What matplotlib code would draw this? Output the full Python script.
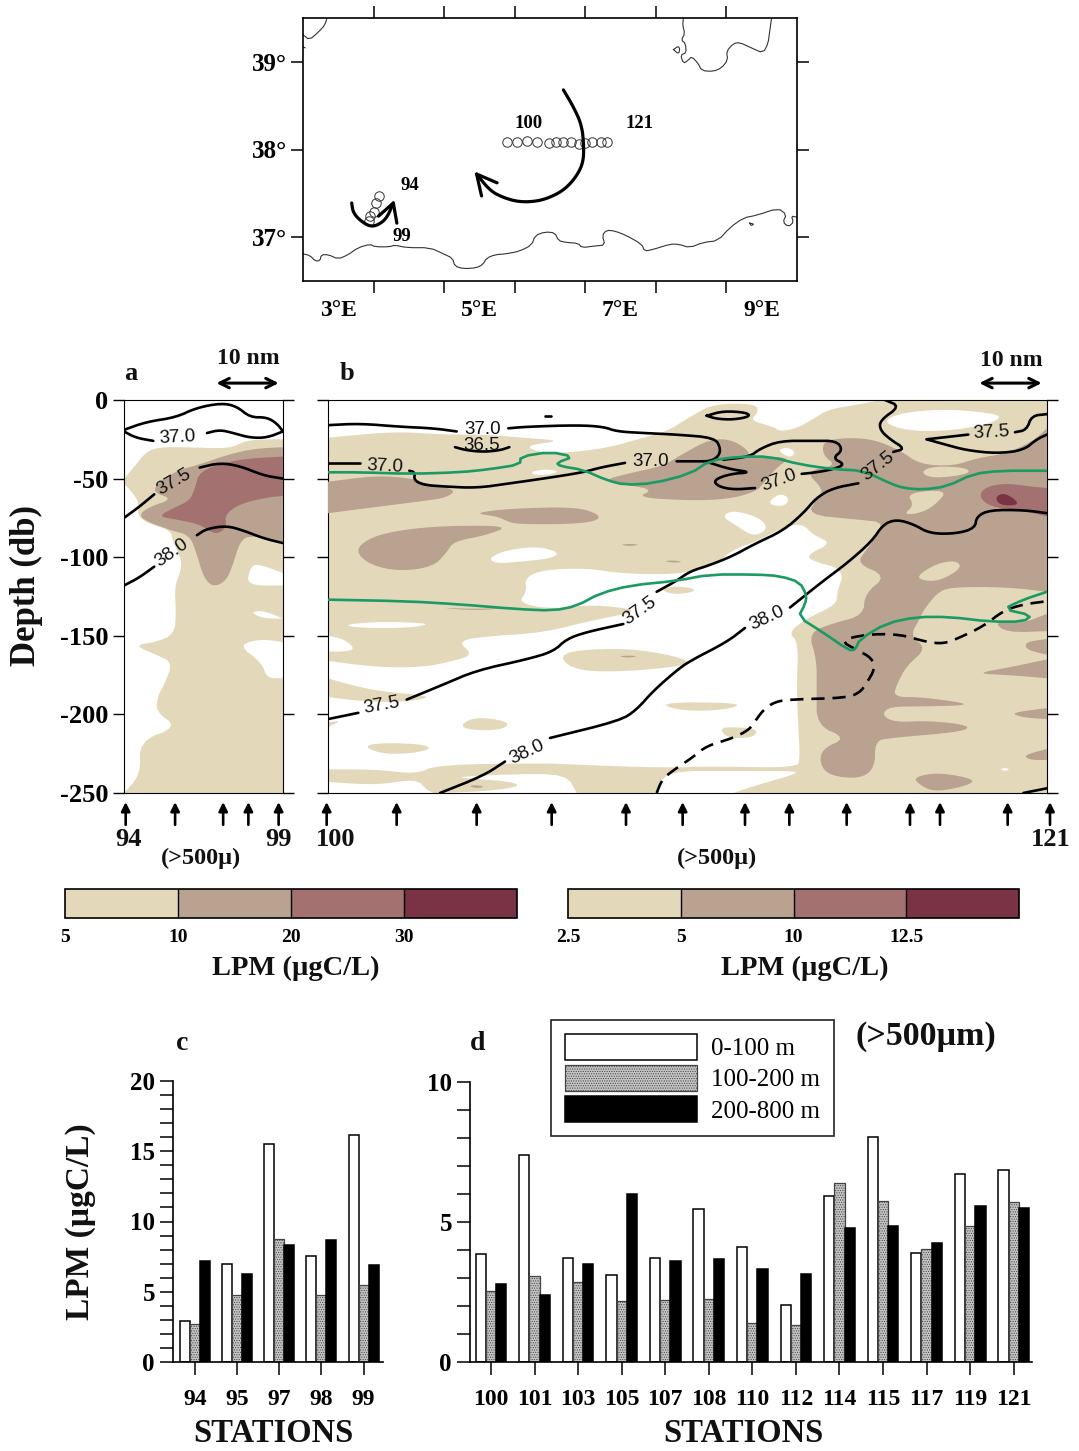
import numpy as np
import matplotlib
matplotlib.use("Agg")
import matplotlib.pyplot as plt
from matplotlib.patches import Patch
from matplotlib.colors import ListedColormap, BoundaryNorm
from matplotlib.cm import ScalarMappable
from matplotlib.ticker import FixedLocator, NullFormatter

plt.rcParams['font.family'] = ['Liberation Serif', 'DejaVu Serif']
plt.rcParams['hatch.linewidth'] = 0.5
plt.rcParams['axes.unicode_minus'] = False
W, H = 1079, 1451
fig = plt.figure(figsize=(W/100, H/100), dpi=100)

def ax_px(l, t, r, b):
    return fig.add_axes([l/W, 1-b/H, (r-l)/W, (b-t)/H])

def ftext(px, py, s, size, weight='bold', rotation=0):
    fig.text(px/W, 1-py/H, s, fontsize=size, fontweight=weight, rotation=rotation,
             ha='center', va='center', color='#111111')

def round_open(pts, n=2):
    """Round the corners of a drawn polyline; its two end points stay put."""
    p = np.asarray(pts, float)
    for _ in range(n):
        if len(p) < 3:
            break
        q = [p[0]]
        for i in range(len(p)-1):
            q.append(0.75*p[i] + 0.25*p[i+1])
            q.append(0.25*p[i] + 0.75*p[i+1])
        q.append(p[-1])
        p = np.array(q)
    return p

def round_closed(pts, xlim, ylim, n=2):
    """Round polygon corners, leaving vertices on the panel frame sharp."""
    p = np.asarray(pts, float)
    def pinned(v):
        return (abs(v[0]-xlim[0]) < 1e-6 or abs(v[0]-xlim[1]) < 1e-6 or
                abs(v[1]-ylim[0]) < 1e-6 or abs(v[1]-ylim[1]) < 1e-6)
    for _ in range(n):
        q = []
        m_ = len(p)
        for i in range(m_):
            a_, b_, c_ = p[i-1], p[i], p[(i+1) % m_]
            if pinned(b_):
                q.append(b_)
            else:
                q.append(0.75*b_ + 0.25*a_)
                q.append(0.75*b_ + 0.25*c_)
        p = np.array(q)
    return p

# ---------- colours ----------
C1, C2, C3, C4 = '#E3D9BA', '#B9A28F', '#A3716F', '#7A3344'
GREEN = '#1B9A63'

# ---------- map data (lon, lat) ----------
COAST_S = [(2.50,36.81),(2.60,36.79),(2.67,36.73),(2.74,36.73),(2.76,36.80),(2.86,36.80),(3.00,36.75),(3.14,36.80),
 (3.28,36.88),(3.45,36.92),(3.52,36.89),(3.73,36.89),(3.80,36.91),(3.97,36.88),(4.30,36.88),(4.49,36.81),(4.62,36.76),
 (4.65,36.67),(4.77,36.64),(4.96,36.65),(5.05,36.69),(5.10,36.76),(5.22,36.80),(5.38,36.81),(5.57,36.84),(5.74,36.91),
 (5.79,37.02),(5.93,37.06),(6.07,37.05),(6.12,36.96),(6.23,36.94),(6.40,36.93),(6.45,36.88),(6.64,36.90),(6.78,36.91),
 (6.74,37.02),(6.80,37.08),(6.92,37.07),(7.08,37.02),(7.30,36.92),(7.34,36.84),(7.46,36.86),(7.70,36.92),(7.82,36.92),
 (7.98,36.88),(8.17,36.94),(8.38,36.96),(8.55,37.11),(8.74,37.22),(8.93,37.25),(9.23,37.33),(9.35,37.26),(9.30,37.17),
 (9.38,37.12),(9.45,37.17),(9.42,37.24),(9.49,37.23)]
COAST_N = [(7.89,39.50),(7.88,39.42),(7.91,39.32),(7.86,39.25),(7.92,39.21),(7.93,39.10),(7.85,39.08),(7.89,38.98),
 (7.96,39.02),(8.01,39.06),(8.10,38.98),(8.15,38.90),(8.31,38.89),(8.43,38.93),(8.52,39.02),(8.50,39.12),(8.60,39.21),
 (8.69,39.22),(8.85,39.16),(9.02,39.10),(9.09,39.21),(9.11,39.33),(9.14,39.50)]
COAST_NW = [(2.84,39.50),(2.81,39.42),(2.72,39.34),(2.59,39.25),(2.50,39.31)]
ISLANDS = [[(7.75,39.14),(7.82,39.18),(7.84,39.14),(7.82,39.09),(7.75,39.14)],
           [(8.83,37.16),(8.89,37.15),(8.85,37.13),(8.83,37.16)],
           [(2.50,39.17),(2.53,39.16)]]
ST_B_LON = [5.39,5.53,5.67,5.82,5.98,6.08,6.19,6.30,6.41,6.49,6.60,6.72,6.81]
ST_B_LAT = [38.08,38.08,38.10,38.08,38.07,38.08,38.08,38.08,38.06,38.07,38.08,38.08,38.08]
ST_A_LON = [3.58,3.53,3.50,3.45,3.44]
ST_A_LAT = [37.47,37.39,37.29,37.24,37.19]
EDDY_BIG = [(6.19,38.68),(6.33,38.49),(6.45,38.28),(6.48,38.04),(6.47,37.85),(6.38,37.70),(6.23,37.56),(6.05,37.47),
 (5.83,37.41),(5.57,37.40),(5.34,37.45),(5.15,37.53),(4.96,37.72)]
EDDY_BIG_HEAD = [(5.25,37.62),(4.96,37.72),(5.03,37.47)]
EDDY_SMALL = [(3.19,37.39),(3.21,37.28),(3.31,37.19),(3.45,37.12),(3.57,37.14),(3.69,37.22),(3.78,37.39)]
EDDY_SMALL_HEAD = [(3.57,37.24),(3.78,37.39),(3.83,37.16)]
LON_LABELS = [3, 5, 7, 9]
LAT_LABELS = [37, 38, 39]

m = ax_px(303, 18, 797, 281)
m.set_xlim(2.5, 9.5); m.set_ylim(36.5, 39.5)
def xy(a, **k):
    a = np.array(a); m.plot(a[:,0], a[:,1], **k)
for c in (COAST_S, COAST_N, COAST_NW, *ISLANDS):
    xy(round_open(c, 1), color='#333333', lw=0.8)
m.plot(ST_B_LON, ST_B_LAT, 'o', mfc='none', mec='#333333', ms=6.8, mew=0.7)
m.plot(ST_A_LON, ST_A_LAT, 'o', mfc='none', mec='#333333', ms=6.8, mew=0.7)
for e in (EDDY_BIG, EDDY_SMALL):
    xy(round_open(e, 3), color='black', lw=2.3, solid_capstyle='round', solid_joinstyle='round')
for e in (EDDY_BIG_HEAD, EDDY_SMALL_HEAD):
    xy(e, color='black', lw=2.3, solid_capstyle='round', solid_joinstyle='round')
m.xaxis.set_major_locator(FixedLocator(np.arange(3.5, 9, 1)))
m.xaxis.set_major_formatter(NullFormatter())
m.xaxis.set_minor_locator(FixedLocator(LON_LABELS))
m.set_xticklabels([f'{v}°E' for v in LON_LABELS], minor=True, fontsize=17, fontweight='bold')
m.set_yticks(LAT_LABELS); m.set_yticklabels([f'{v}°' for v in LAT_LABELS], fontsize=18, fontweight='bold')
m.tick_params(which='major', top=True, right=True, length=8.5, width=1.1, direction='out')
m.tick_params(axis='x', which='minor', length=0, pad=14)
m.tick_params(axis='y', pad=3)
for (lo, la, s) in [(5.70,38.30,'100'),(7.27,38.30,'121'),(4.01,37.59,'94'),(3.90,37.01,'99')]:
    m.text(lo, la, s, fontsize=13.5, fontweight='bold', ha='center', va='center')
for s in m.spines.values(): s.set_linewidth(1.2)

# ---------- section a (distance along track, depth db) ----------
A_XLIM = (375, 848)
A_BEIGE = [(848,-25),(790,-25),(735,-26),(690,-31),(560,-30),(480,-30),(440,-33),(400,-44),(375,-50),(375,-53),(420,-64),
 (415,-73),(440,-78),(515,-83),(520,-90),(545,-101),(545,-108),(525,-119),(530,-134),(525,-149),(470,-154),(405,-156),
 (470,-162),(520,-167),(495,-181),(478,-187),(468,-198),(535,-208),(420,-217),(425,-238),(375,-250),(848,-250)]
A_WHITE = [[(848,-110),(770,-104),(750,-107),(740,-118),(848,-118)],
           [(750,-135),(790,-134),(848,-139),(790,-139)],
           [(715,-156),(780,-152),(848,-154),(848,-177),(800,-177),(785,-167)]]
A_L2 = [(848,-30),(760,-31),(680,-35),(600,-41),(530,-45),(470,-54),(465,-59),(520,-63),(450,-68),(420,-73),(440,-77),
 (515,-83),(570,-86),(590,-97),(612,-113),(640,-119),(680,-115),(700,-104),(720,-90),(750,-86),(848,-90)]
A_L3 = [(848,-36),(760,-37),(690,-39),(600,-45),(585,-57),(570,-64),(530,-68),(475,-74),(530,-76),(600,-79),(640,-85),
 (665,-84),(680,-80),(675,-73),(720,-66),(800,-62),(848,-61)]
A_LINES = [[(375,-19),(440,-14),(530,-11),(590,-5),(665,-2),(710,-4),(750,-11),(800,-11),(830,-15),(848,-20)],
 [(375,-20),(410,-24),(462,-26)], [(622,-21),(660,-19),(700,-21),(750,-24),(800,-24),(848,-20)],
 [(375,-75),(420,-68),(465,-60)], [(600,-43),(660,-40),(720,-42),(790,-48),(848,-50)],
 [(375,-118),(420,-113),(465,-106)], [(592,-86),(620,-82),(680,-80),(730,-83),(790,-88),(848,-91)]]
A_LABELS = [(535,-24,'37.0',3),(525,-52,'37.5',30),(518,-97,'38.0',35)]
A_STATIONS = [380,527,670,745,835]

# ---------- section b ----------
B_XLIM = (54, 2211)
B_WHITE = [
 [(54,0),(54,-24),(250,-20),(400,-22),(530,-22),(640,-24),(760,-26),(640,-29),(700,-34),(800,-33),(900,-30),(1000,-24),
  (1070,-20),(1130,-12),(1180,-6),(1200,-4),(1260,-2),(1340,-3),(1345,-8),(1320,-13),(1390,-17),(1410,-20),(1460,-18),
  (1510,-12),(1555,-6),(1640,-3),(1715,0)],
 [(1720,-13),(1780,-8),(1890,-6),(1990,-7),(2080,-10),(2040,-15),(1940,-19),(1840,-20),(1760,-18)],
 [(625,-129),(650,-122),(645,-113),(700,-108),(830,-107),(920,-110),(1040,-111),(1130,-110),(1165,-106),(1220,-104),
  (1270,-95),(1340,-90),(1430,-80),(1480,-79),(1510,-86),(1565,-91),(1495,-98),(1500,-102),(1605,-108),(1580,-123),
  (1580,-130),(1490,-139),(1435,-148),(1465,-154),(1460,-183),(1465,-209),(1470,-228),(1460,-234),(1200,-233),(1060,-234),
  (800,-232),(700,-231),(380,-232),(320,-238),(200,-235),(54,-235),(54,-189),(170,-192),(290,-192),(365,-189),(300,-187),
  (200,-185),(100,-180),(54,-177),(54,-166),(200,-170),(340,-170),(430,-166),(490,-162),(440,-153),(550,-150),(700,-148),
  (850,-140),(1000,-134),(850,-130),(720,-133)],
 [(54,-243),(200,-245),(320,-241),(350,-248),(370,-250),(54,-250)],
 [(430,-240),(600,-238),(770,-238),(800,-250),(390,-250),(520,-249),(630,-246),(610,-243),(500,-241)],
 [(1045,-250),(1060,-236),(1300,-236),(1470,-236),(1440,-239),(1340,-245),(1270,-250)],
 [(100,-143),(200,-141),(370,-142),(300,-145),(150,-145)],
 [(54,-150),(100,-152),(135,-158),(110,-160),(54,-160)],
 [(660,-46),(700,-44),(745,-45),(730,-47),(680,-48)],
 [(535,-101),(580,-96),(680,-93),(750,-97),(720,-101),(620,-103),(560,-104)],
 [(1235,-74),(1270,-70),(1350,-75),(1375,-82),(1330,-87),(1280,-80)],
 [(1370,-66),(1410,-59),(1440,-63),(1420,-68)],
 [(1402,-32),(1430,-30),(1458,-33),(1440,-37)],
 [(2070,-235),(2085,-234),(2100,-235),(2085,-236)]]
B_BEIGE_BLOBS = [
 [(750,-163),(800,-159),(960,-158),(1100,-163),(1150,-168),(1000,-172),(850,-173),(780,-170)],
 [(1050,-194),(1120,-192),(1300,-193),(1250,-197),(1130,-198)],
 [(450,-207),(490,-202),(560,-203),(600,-206),(570,-210),(480,-210)],
 [(160,-220),(220,-218),(340,-219),(365,-222),(300,-225),(210,-225)],
 [(54,-205),(95,-204),(54,-208)],
 [(1230,-209),(1260,-208),(1345,-209),(1330,-215),(1250,-215)],
 [(1050,-121),(1100,-118),(1170,-121),(1100,-124)]]
B_L2 = [
 [(54,-52),(200,-48),(310,-50),(345,-53),(440,-57),(410,-62),(350,-64),(200,-68),(54,-72)],
 [(490,-72),(600,-69),(800,-68),(870,-73),(860,-77),(780,-79),(620,-79),(590,-77),(560,-74)],
 [(135,-96),(175,-88),(260,-83),(400,-80),(600,-80),(530,-86),(430,-90),(410,-97),(370,-106),(270,-109),(180,-105)],
 [(880,-51),(950,-47),(1060,-42),(1120,-34),(1200,-25),(1260,-25),(1310,-31),(1320,-36),(1380,-36),(1440,-37),(1400,-43),
  (1360,-53),(1340,-58),(1260,-63),(1140,-64),(980,-62),(1030,-57),(950,-54)],
 [(1540,-26),(1610,-24),(1690,-25),(1770,-32),(1830,-41),(1930,-42),(2000,-37),(2090,-34),(2170,-26),(2211,-18),(2211,-122),
  (2090,-119),(1920,-119),(1880,-123),(1840,-134),(1830,-139),(1800,-150),(1850,-158),(1790,-169),(1760,-181),(1750,-189),
  (1840,-189),(2000,-194),(1840,-195),(1740,-195),(1715,-200),(1750,-205),(1860,-204),(1980,-207),(1960,-211),(1740,-215),
  (1695,-217),(1695,-234),(1650,-241),(1560,-239),(1530,-232),(1535,-222),(1610,-215),(1520,-207),(1520,-185),(1520,-165),
  (1495,-148),(1570,-142),(1660,-137),(1665,-123),(1730,-112),(1640,-104),(1670,-95),(1730,-78),(1640,-76),(1490,-73),
  (1525,-62),(1540,-57),(1485,-45),(1580,-42),(1538,-35)],
 [(1995,-174),(2100,-170),(2211,-165),(2211,-177),(2100,-175)],
 [(2145,-154),(2211,-152),(2211,-162),(2150,-159)],
 [(2050,-141),(2140,-142),(2211,-136),(2211,-147),(2090,-148)],
 [(2100,-199),(2211,-196),(2211,-203),(2140,-202)],
 [(2140,-226),(2211,-222),(2211,-229),(2160,-229)],
 [(1810,-240),(1880,-237),(1970,-240),(1995,-243),(1940,-247),(1870,-249),(1830,-245)],
 [(380,-132),(500,-134),(600,-132),(500,-133)],
 [(930,-92),(960,-91.5),(990,-92),(960,-93)],
 [(1060,-102.5),(1090,-102),(1120,-103),(1090,-103.5)],
 [(925,-163),(955,-162.5),(985,-163),(955,-164)],
 [(475,-245.5),(500,-245),(525,-246),(500,-247)]]
B_BEIGE_OVER = [
 [(1830,-46),(1870,-42),(1970,-43),(1980,-47),(1870,-50)],
 [(1790,-59),(1915,-57),(1875,-67),(1830,-72),(1780,-73),(1812,-67)],
 [(1820,-112),(1880,-104),(1940,-102),(1955,-107),(1890,-115),(1840,-115)]]
B_L3 = [(2005,-61),(2030,-55),(2090,-53),(2160,-55),(2211,-56),(2211,-74),(2140,-70.5),(2040,-68)]
B_L4 = [(2055,-62),(2080,-59),(2115,-63),(2125,-67),(2070,-67)]
B_LINES = [
 [(54,-16),(150,-15),(270,-17),(370,-18),(440,-20)],
 [(595,-18),(650,-17),(800,-16),(880,-17),(920,-20),(1000,-21),(1100,-22),(1215,-24),(1232,-31),(1225,-36),(1200,-39),(1160,-39),(1100,-39)],
 [(945,-40),(870,-43),(820,-46),(700,-50),(600,-53),(500,-56),(400,-55),(340,-54),(312,-51),(315,-46),(298,-45)],
 [(150,-40),(54,-40)],
 [(435,-30),(470,-32),(520,-33),(570,-32),(598,-30)],
 [(706,-10),(722,-10)],
 [(1190,-10),(1240,-7),(1310,-8),(1320,-10.5),(1270,-12.5),(1220,-12),(1190,-10)],
 [(1200,-40),(1260,-44),(1325,-46),(1260,-47),(1210,-51),(1225,-55),(1270,-57),(1335,-56)],
 [(1475,-47),(1520,-46),(1570,-44),(1605,-41),(1568,-37),(1598,-32),(1580,-26),(1510,-26),(1410,-26),(1350,-31),(1320,-36),(1240,-38)],
 [(1850,-25),(1900,-28),(1970,-32),(2060,-34),(2140,-32),(2180,-25),(2211,-22)],
 [(1850,-25),(1975,-22)],
 [(2115,-20.5),(2150,-19),(2165,-10),(2211,-9)],
 [(1725,0),(1770,-4),(1710,-13),(1710,-19),(1740,-25),(1785,-31),(1750,-33)],
 [(1645,-53),(1570,-56),(1520,-62),(1480,-72),(1420,-83),(1330,-92),(1270,-99),(1200,-105),(1140,-109),(1100,-115),(1040,-122)],
 [(940,-142.5),(830,-147.6),(770,-152),(730,-160),(650,-165),(500,-172),(400,-181),(290,-190.6)],
 [(145,-199),(54,-203)],
 [(2211,-72),(2140,-70),(2040,-70),(2000,-74),(1995,-81.5),(1940,-85),(1860,-85),(1810,-79),(1760,-76),(1720,-79),(1685,-90),(1610,-104),(1540,-115),(1440,-132)],
 [(1305,-145),(1250,-154),(1140,-166),(1100,-172),(1030,-185),(980,-197),(930,-204),(720,-215)],
 [(585,-230),(520,-239),(390,-250)],
 [(2140,-250),(2211,-247)]]
B_DASHED = [(1040,-250),(1055,-242),(1080,-237),(1150,-227),(1190,-220),(1270,-215),(1315,-210),(1330,-206),(1360,-197),(1395,-192),(1440,-190.5),
 (1610,-189.5),(1650,-186),(1670,-180),(1695,-171),(1685,-164),(1640,-159),(1590,-153),(1670,-149),(1770,-149),(1850,-154),
 (1900,-155),(1940,-152),(2020,-144),(2080,-134),(2140,-130),(2211,-128)]
B_GREEN_1 = [(54,-46),(150,-46),(300,-47),(450,-46),(540,-44),(630,-41),(632,-36),(720,-33),(790,-36),(740,-40),(750,-42),(820,-44.5),
 (890,-51),(945,-54),(1030,-53),(1140,-47),(1200,-38.5),(1290,-36),(1380,-36),(1470,-41),(1570,-44),(1660,-45),(1740,-53),
 (1780,-56),(1840,-57),(1910,-55),(1990,-47),(2070,-45),(2211,-45)]
B_GREEN_2 = [(54,-127),(290,-128),(450,-130),(620,-133),(730,-134),(800,-131),(870,-123),(960,-118),(1100,-115),(1200,-111),(1340,-111),
 (1410,-112),(1470,-116),(1490,-124.5),(1485,-130),(1465,-138),(1540,-148),(1615,-159),(1635,-159),(1650,-152),(1730,-142),
 (1820,-138),(1920,-138),(2040,-141),(2140,-141),(2165,-137),(2080,-133),(2140,-127),(2211,-122)]
B_LABELS = [(518,-19,'37.0',0),(515,-29,'36.5',0),(225,-42,'37.0',-3),(1023,-39,'37.0',0),(1408,-51,'37.0',20),(2045,-21,'37.5',3),
 (1705,-42,'37.5',38),(990,-134,'37.5',35),(215,-194,'37.5',10),(1372,-139,'38.0',25),(650,-224,'38.0',25)]
B_STATIONS = [50,260,500,725,948,1118,1305,1438,1610,1800,1890,2093,2220]
DEPTH_TICKS = [0,-50,-100,-150,-200,-250]
YLIM = (-250, 0)

def fill(ax, poly, c, z, xlim):
    p = round_closed(poly, xlim, YLIM)
    ax.fill(p[:,0], p[:,1], color=c, lw=0, zorder=z)

def finish(ax, lines, labels, stations, ten_nm):
    for ln in lines:
        p = round_open(ln, 2)
        ax.plot(p[:,0], p[:,1], color='black', lw=1.9, zorder=6, solid_capstyle='round')
    for x, d, s, r in labels:
        ax.text(x, d, s, fontsize=13.5, rotation=r, ha='center', va='center', zorder=7,
                family=['Liberation Sans'], color='#111111')
    ax.set_ylim(*YLIM)
    ax.set_xticks([]); ax.set_yticks(DEPTH_TICKS)
    ax.tick_params(axis='y', left=True, right=True, length=8, width=1, labelsize=19)
    for t in ax.get_yticklabels(): t.set_fontweight('bold')
    tr = ax.get_xaxis_transform()
    for x in stations:
        ax.annotate('', xy=(x, -0.023), xytext=(x, -0.081), xycoords=tr, textcoords=tr,
                    arrowprops=dict(arrowstyle='-|>', color='black', lw=1.9, mutation_scale=13, shrinkA=0, shrinkB=0),
                    annotation_clip=False)
    ax.annotate('', xy=(ten_nm[0], 1.043), xytext=(ten_nm[1], 1.043), xycoords=tr, textcoords=tr,
                arrowprops=dict(arrowstyle='<->', color='black', lw=2.2, mutation_scale=17, shrinkA=0, shrinkB=0),
                annotation_clip=False)

a = ax_px(124, 400, 283, 793)
a.set_xlim(*A_XLIM)
fill(a, A_BEIGE, C1, 1, A_XLIM)
for w in A_WHITE: fill(a, w, 'white', 2, A_XLIM)
fill(a, A_L2, C2, 3, A_XLIM); fill(a, A_L3, C3, 4, A_XLIM)
finish(a, A_LINES, A_LABELS, A_STATIONS, (650, 835))
a.set_yticklabels([str(v) for v in DEPTH_TICKS], fontweight='bold', fontsize=19)

b = ax_px(328, 400, 1047, 793)
b.set_xlim(*B_XLIM)
b.axhspan(-250, 0, color=C1, lw=0, zorder=1)
for w in B_WHITE: fill(b, w, 'white', 2, B_XLIM)
for w in B_BEIGE_BLOBS: fill(b, w, C1, 2.5, B_XLIM)
for w in B_L2: fill(b, w, C2, 3, B_XLIM)
for w in B_BEIGE_OVER: fill(b, w, C1, 3.5, B_XLIM)
fill(b, B_L3, C3, 4, B_XLIM); fill(b, B_L4, C4, 5, B_XLIM)
finish(b, B_LINES, B_LABELS, B_STATIONS, (2008, 2195))
b.set_yticklabels([])
for arr in (B_GREEN_1, B_GREEN_2):
    p = round_open(arr, 1); b.plot(p[:,0], p[:,1], color=GREEN, lw=1.9, zorder=6.5)
p = round_open(B_DASHED, 2); b.plot(p[:,0], p[:,1], color='black', lw=1.9, dashes=(5, 3), zorder=6)

ftext(131, 374, 'a', 19); ftext(347, 374, 'b', 19)
ftext(248, 359, '10 nm', 17); ftext(1011, 361, '10 nm', 17)
ftext(128, 839, '94', 19); ftext(279, 839, '99', 19); ftext(336, 839, '100', 19); ftext(1051, 839, '121', 19)
ftext(201, 858, '(>500µ)', 17.5); ftext(717, 858, '(>500µ)', 17.5)
ftext(26, 585, 'Depth (db)', 25, rotation=90)

# ---------- colour bars ----------
CB_LEFT = [5, 10, 20, 30, 40]
CB_RIGHT = [2.5, 5, 10, 12.5, 15]
cmap = ListedColormap([C1, C2, C3, C4])
for (l, r, bounds, lab_x) in [(65, 517, CB_LEFT, 296), (568, 1019, CB_RIGHT, 805)]:
    cax = ax_px(l, 889, r, 918)
    sm = ScalarMappable(norm=BoundaryNorm(bounds, 4), cmap=cmap)
    cb = fig.colorbar(sm, cax=cax, orientation='horizontal', spacing='uniform', ticks=bounds[:-1], drawedges=True)
    cb.ax.set_xticklabels([str(v) for v in bounds[:-1]], fontsize=14, fontweight='bold')
    cb.ax.tick_params(length=0, pad=8)
    cb.ax.minorticks_off()
    cb.outline.set_linewidth(1.2)
    cb.dividers.set_linewidth(1.0)
    ftext(lab_x, 968, 'LPM (µgC/L)', 20.5)

# ---------- bar charts ----------
ST_C = ['94','95','97','98','99']
C_0_100 = [2.9,6.96,15.5,7.55,16.15]
C_100_200 = [2.73,4.75,8.74,4.75,5.5]
C_200_800 = [7.17,6.27,8.36,8.67,6.9]
ST_D = ['100','101','103','105','107','108','110','112','114','115','117','119','121']
D_0_100 = [3.84,7.4,3.7,3.09,3.7,5.46,4.1,2.05,5.94,8.04,3.88,6.72,6.85]
D_100_200 = [2.52,3.06,2.85,2.19,2.23,2.24,1.4,1.32,6.41,5.76,4.03,4.87,5.71]
D_200_800 = [2.77,2.41,3.49,6.0,3.62,3.67,3.31,3.16,4.77,4.87,4.25,5.58,5.51]
LEGEND = ['0-100 m', '100-200 m', '200-800 m']
STY = [dict(facecolor='white', edgecolor='black', linewidth=1.1),
       dict(facecolor='#c4c4c4', edgecolor='#444444', hatch='.......', linewidth=0.9),
       dict(facecolor='black', edgecolor='black', linewidth=1.1)]

def bars(ax, names, series, width, xlim, ymax, ymaj):
    x = np.arange(len(names))
    for i, (vals, st) in enumerate(zip(series, STY)):
        ax.bar(x + (i-1)*width, vals, width, **st)
    ax.set_xlim(*xlim); ax.set_ylim(0, ymax)
    ax.set_xticks(x); ax.set_xticklabels(names, fontsize=17, fontweight='bold')
    ax.set_yticks(ymaj); ax.set_yticklabels([str(v) for v in ymaj], fontsize=18, fontweight='bold')
    ax.set_yticks(np.arange(0, ymax+1), minor=True)
    ax.tick_params(axis='both', which='both', length=9.5, width=1.1, direction='out')
    ax.tick_params(axis='x', pad=10)
    ax.spines[['top','right']].set_visible(False)
    ax.spines[['left','bottom']].set_linewidth(1.2)

c = ax_px(173, 1081, 383, 1362)
bars(c, ST_C, (C_0_100, C_100_200, C_200_800), 0.237, (-0.514, 4.46), 20, [0,5,10,15,20])
d = ax_px(470, 1082, 1032, 1362)
bars(d, ST_D, (D_0_100, D_100_200, D_200_800), 0.235, (-0.482, 12.42), 10, [0,5,10])

handles = [Patch(label=l, **s) for l, s in zip(LEGEND, STY)]
leg = d.legend(handles=handles, loc='upper left', bbox_to_anchor=(551/W, 1-1020/H), bbox_transform=fig.transFigure,
               borderaxespad=0, fontsize=18, handlelength=5.3, handleheight=1.25, labelspacing=0.18,
               handletextpad=0.55, borderpad=0.55, fancybox=False, edgecolor='#222222', framealpha=1)
leg.get_frame().set_linewidth(1.2)

ftext(182, 1043, 'c', 20); ftext(478, 1043, 'd', 20)
ftext(926, 1037, '(>500µm)', 24.5)
ftext(80, 1222, 'LPM (µgC/L)', 24, rotation=90)
ftext(273, 1434, 'STATIONS', 23.5); ftext(743, 1434, 'STATIONS', 23.5)

fig.savefig('out.png', dpi=100)
